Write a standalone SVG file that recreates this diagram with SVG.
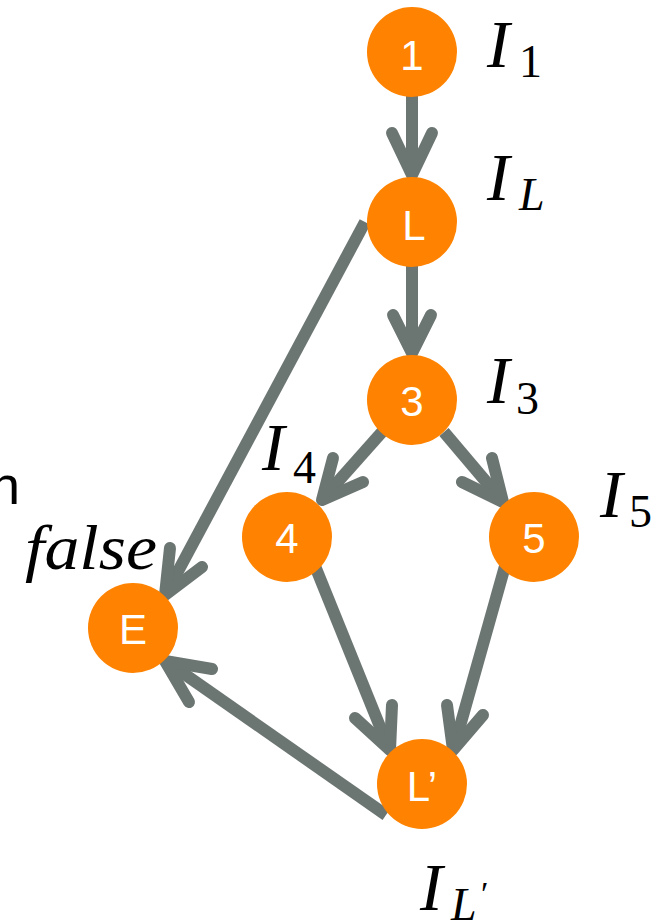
<svg xmlns="http://www.w3.org/2000/svg" width="664" height="923" viewBox="0 0 664 923">
<style>
.edge line{stroke:#6b7571;stroke-width:12;stroke-linecap:butt}
.edge path{fill:none;stroke:#6b7571;stroke-width:12;stroke-linecap:round;stroke-linejoin:round}
.node circle{fill:#ff8300}
.node text{fill:#ffffff;font-family:"Liberation Sans",Arial,sans-serif;font-size:42px;text-anchor:middle}
.m{font-family:"Liberation Serif","Times New Roman",serif;fill:#000}
.mi{font-style:italic}
</style>
<rect width="664" height="923" fill="#ffffff"/>
<g id="connectors">
<g class="edge" id="e1L"><line x1="412" y1="90" x2="412" y2="168"/><path d="M392,133 L412,175 L432,133"/></g>
<g class="edge" id="eL3"><line x1="412" y1="262" x2="412" y2="346"/><path d="M393,315 L412,353 L431,315"/></g>
<g class="edge" id="eLE"><line x1="365" y1="222" x2="168" y2="590"/><path d="M170,548 L165,595 L202,567"/></g>
<g class="edge" id="e34"><line x1="382" y1="432" x2="326" y2="495"/><path d="M333,458 L322,500 L363,482"/></g>
<g class="edge" id="e35"><line x1="444" y1="432" x2="499" y2="497"/><path d="M492,458 L503,502 L462,482"/></g>
<g class="edge" id="e4Lp"><line x1="315" y1="566" x2="387" y2="744"/><path d="M392,705 L390,750 L355,718"/></g>
<g class="edge" id="e5Lp"><line x1="505" y1="566" x2="455" y2="744"/><path d="M447,705 L453,750 L483,715"/></g>
<g class="edge" id="eLpE"><line x1="386" y1="815" x2="170" y2="664"/><path d="M212,669 L165,661 L189,702"/></g>
</g>
<g id="node1" class="node"><circle cx="412" cy="52" r="45"/><text x="412" y="70">1</text></g>
<g id="nodeL" class="node"><circle cx="412" cy="222" r="45"/><text x="414" y="240">L</text></g>
<g id="node3" class="node"><circle cx="412" cy="400" r="45"/><text x="412" y="416">3</text></g>
<g id="node4" class="node"><circle cx="287" cy="537" r="45"/><text x="287" y="553">4</text></g>
<g id="node5" class="node"><circle cx="534" cy="537" r="45"/><text x="534" y="553">5</text></g>
<g id="nodeE" class="node"><circle cx="133" cy="628" r="45"/><text x="133" y="644">E</text></g>
<g id="nodeLp" class="node"><circle cx="422" cy="784" r="45"/><text x="422" y="801">L’</text></g>
<g id="labels">
<text class="m" font-size="68"><tspan class="mi" x="487" y="67">I</tspan><tspan x="519" y="77" font-size="46">1</tspan></text>
<text class="m" font-size="68"><tspan class="mi" x="487" y="200">I</tspan><tspan class="mi" x="519" y="210" font-size="46">L</tspan></text>
<text class="m" font-size="68"><tspan class="mi" x="487" y="403">I</tspan><tspan x="516" y="414" font-size="46">3</tspan></text>
<text class="m" font-size="68"><tspan class="mi" x="262" y="470">I</tspan><tspan x="293" y="483" font-size="46">4</tspan></text>
<text class="m" font-size="68"><tspan class="mi" x="600" y="517">I</tspan><tspan x="629" y="527" font-size="46">5</tspan></text>
<text class="m" font-size="68"><tspan class="mi" x="420" y="910">I</tspan><tspan class="mi" x="451" y="920" font-size="46">L</tspan><tspan x="481" y="905" font-size="34">′</tspan></text>
<text class="m mi" x="25" y="569" font-size="64" textLength="132" lengthAdjust="spacingAndGlyphs">false</text>
<text x="-10" y="504" font-family="'Liberation Sans',Arial,sans-serif" font-size="54" fill="#000">n</text>
</g>
</svg>
